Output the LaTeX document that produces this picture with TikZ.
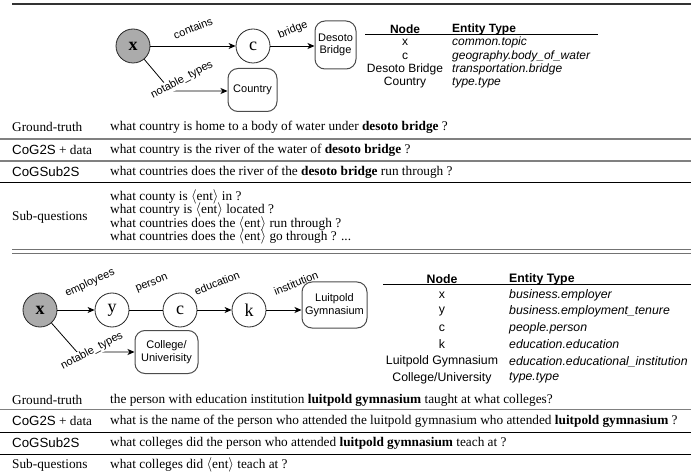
\documentclass[tikz,border=0pt]{standalone}
\usepackage{fontspec}
\setmainfont{Liberation Serif}
\setsansfont{Liberation Sans}
\usetikzlibrary{arrows.meta}
\begin{document}
\begin{tikzpicture}[x=1pt,y=-1pt,
  ent/.style={circle,draw=black!85,line width=0.8pt,minimum size=34pt,inner sep=0pt,font=\fontsize{18}{18}\selectfont},
  rootent/.style={ent,fill=black!33,font=\fontsize{18}{18}\selectfont\bfseries},
  tbox/.style={draw=black!70,line width=1pt,rounded corners=10pt,align=center,inner sep=0pt,font=\sffamily\fontsize{11}{12.5}\selectfont},
  arr/.style={line width=0.8pt,-{Stealth[length=7pt,width=6pt,inset=2pt]}},
  plainedge/.style={line width=0.8pt},
  elab/.style={font=\sffamily\fontsize{11}{11}\selectfont,rotate=22,inner sep=1pt},
  ntlab/.style={font=\sffamily\fontsize{11}{11}\selectfont,rotate=28,inner sep=1pt,fill=white},
  thead/.style={font=\sffamily\bfseries\fontsize{12}{12}\selectfont,inner sep=0pt},
  tcell/.style={font=\sffamily\fontsize{12}{12}\selectfont,inner sep=0pt},
  tent/.style={font=\sffamily\itshape\fontsize{12}{12}\selectfont,anchor=west,inner sep=0pt},
  bthead/.style={font=\sffamily\bfseries\fontsize{12.3}{12.3}\selectfont,inner sep=0pt},
  btcell/.style={font=\sffamily\fontsize{12.3}{12.3}\selectfont,inner sep=0pt},
  btent/.style={font=\sffamily\itshape\fontsize{12.3}{12.3}\selectfont,anchor=west,inner sep=0pt},
  rlab/.style={anchor=west,font=\fontsize{13.3}{15}\selectfont,inner sep=0pt},
  grayrule/.style={draw=black!50,line width=1.4pt},
  blackrule/.style={draw=black,line width=1pt},
]
\useasboundingbox (0,0) rectangle (691,473);

% ---------------- top section ----------------
\draw[draw=black!80,line width=1.4pt] (12,4) -- (691,4);

\node[rootent] (x1) at (133,46) {x};
\node[ent] (c1) at (253,46) {c};
\node[tbox,minimum width=41pt,minimum height=48pt] (desoto) at (335.5,45) {Desoto\\Bridge};
\node[tbox,minimum width=49pt,minimum height=43pt] (country) at (252.5,90) {Country};
\coordinate (nt1) at (171,91);

\draw[arr] (x1) -- (c1);
\draw[arr] (c1) -- (c1 -| desoto.west);
\draw[arr] (x1) -- (nt1) -- (country.west |- nt1);

\node[elab] (lcontains) at (193,28) {contains};
\node[elab] (lbridge) at (293,30) {bridge};
\node[ntlab] (lnt1) at (182,80) {notable\_types};

% table 1
\node[thead] (t1h1) at (405,29) {Node};
\node[thead,anchor=west] (t1h2) at (452,29) {Entity Type};
\draw[line width=0.9pt] (365,34.5) -- (598,34.5);
\node[tcell] (t1a) at (405,42.5) {x};
\node[tent] (t1ae) at (452,42.5) {common.topic};
\node[tcell] (t1b) at (405,56) {c};
\node[tent] (t1be) at (452,56) {geography.body\_of\_water};
\node[tcell] (t1c) at (405,69.5) {Desoto Bridge};
\node[tent] (t1ce) at (452,69.5) {transportation.bridge};
\node[tcell] (t1d) at (405,83) {Country};
\node[tent] (t1de) at (452,83) {type.type};

% rows 1
\node[rlab] (g1l) at (12,127) {Ground-truth};
\node[rlab] (g1t) at (110,127) {what country is home to a body of water under \textbf{desoto bridge} ?};
\draw[grayrule] (0,139) -- (691,139);
\node[rlab] (d1l) at (12,150) {\textsf{CoG2S} + data};
\node[rlab] (d1t) at (110,150) {what country is the river of the water of \textbf{desoto bridge} ?};
\draw[grayrule] (0,161) -- (691,161);
\node[rlab] (s1l) at (12,172) {\textsf{CoGSub2S}};
\node[rlab] (s1t) at (110,172) {what countries does the river of the \textbf{desoto bridge} run through ?};
\draw[blackrule] (0,183) -- (691,183);
\node[rlab] (q1l) at (12,217) {Sub-questions};
\node[rlab] (q1a) at (110,196.5) {what county is $\langle$ent$\rangle$ in ?};
\node[rlab] (q1b) at (110,210) {what country is $\langle$ent$\rangle$ located ?};
\node[rlab] (q1c) at (110,223.5) {what countries does the $\langle$ent$\rangle$ run through ?};
\node[rlab] (q1d) at (110,237) {what countries does the $\langle$ent$\rangle$ go through ? ...};
\draw[draw=black!55,line width=1pt] (12,249.5) -- (691,249.5);
\draw[draw=black!55,line width=1pt] (12,253.5) -- (691,253.5);

% ---------------- bottom section ----------------
\node[rootent] (x2) at (40,310) {x};
\node[ent] (y2) at (112,310) {y};
\node[ent] (c2) at (180,310) {c};
\node[ent] (k2) at (249,310) {k};
\node[tbox,minimum width=65pt,minimum height=46pt] (lu) at (334.5,305) {Luitpold\\Gymnasium};
\node[tbox,minimum width=63pt,minimum height=43pt] (col) at (166.5,352) {College/\\Univerisity};
\coordinate (nt2) at (77,352);

\draw[arr] (x2) -- (y2);
\draw[plainedge] (y2) -- (c2);
\draw[arr] (c2) -- (k2);
\draw[arr] (k2) -- (k2 -| lu.west);
\draw[arr] (x2) -- (nt2) -- (col.west |- nt2);

\node[elab,rotate=3] (lemp) at (90,283) {employees};
\node[elab] (lper) at (152,284) {person};
\node[elab] (ledu) at (217,283) {education};
\node[elab] (lins) at (296,283) {institution};
\node[ntlab] (lnt2) at (92,351) {notable\_types};

% table 2
\node[bthead] (t2h1) at (442,279) {Node};
\node[bthead,anchor=west] (t2h2) at (509,279) {Entity Type};
\draw[line width=0.9pt] (383,284.5) -- (691,284.5);
\node[btcell] (t2a) at (442,295) {x};
\node[btent] (t2ae) at (509,295) {business.employer};
\node[btcell] (t2b) at (442,311.5) {y};
\node[btent] (t2be) at (509,311.5) {business.employment\_tenure};
\node[btcell] (t2c) at (442,328) {c};
\node[btent] (t2ce) at (509,328) {people.person};
\node[btcell] (t2d) at (442,344.5) {k};
\node[btent] (t2de) at (509,344.5) {education.education};
\node[btcell] (t2e) at (442,361.5) {Luitpold Gymnasium};
\node[btent] (t2ee) at (509,361.5) {education.educational\_institution};
\node[btcell] (t2f) at (442,378) {College/University};
\node[btent] (t2fe) at (509,378) {type.type};

% rows 2
\node[rlab] (g2l) at (12,400) {Ground-truth};
\node[rlab] (g2t) at (110,400) {the person with education institution \textbf{luitpold gymnasium} taught at what colleges?};
\draw[grayrule] (0,409.5) -- (691,409.5);
\node[rlab] (d2l) at (12,421) {\textsf{CoG2S} + data};
\node[rlab] (d2t) at (110,421) {what is the name of the person who attended the luitpold gymnasium who attended \textbf{luitpold gymnasium} ?};
\draw[blackrule] (0,432) -- (691,432);
\node[rlab] (s2l) at (12,443) {\textsf{CoGSub2S}};
\node[rlab] (s2t) at (110,443) {what colleges did the person who attended \textbf{luitpold gymnasium} teach at ?};
\draw[blackrule] (0,454) -- (691,454);
\node[rlab] (q2l) at (12,465) {Sub-questions};
\node[rlab] (q2t) at (110,465) {what colleges did $\langle$ent$\rangle$ teach at ?};
\end{tikzpicture}
\end{document}
